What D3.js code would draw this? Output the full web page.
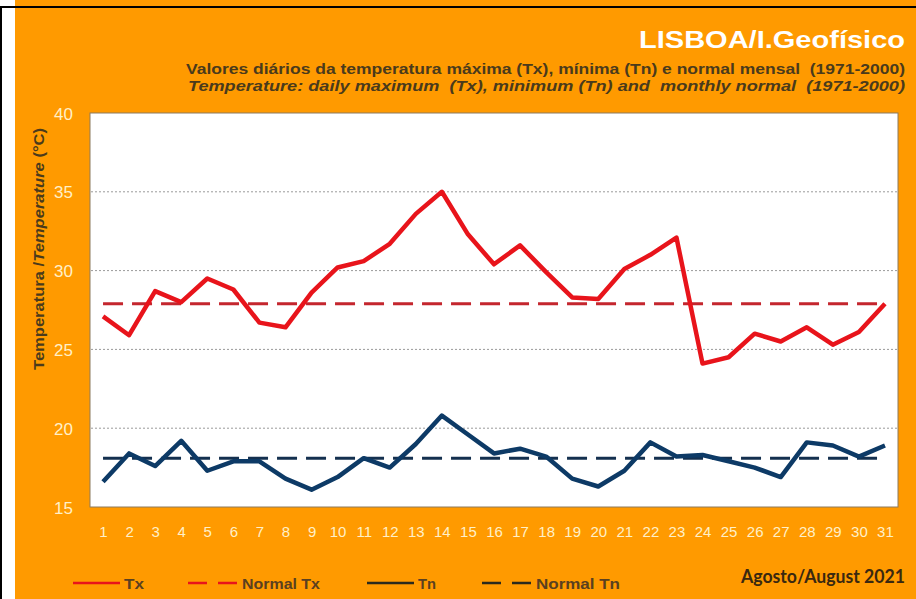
<!DOCTYPE html>
<html>
<head>
<meta charset="utf-8">
<script src="https://cdnjs.cloudflare.com/ajax/libs/d3/7.8.5/d3.min.js"></script>
<style>
  html, body { margin: 0; padding: 0; background: #fff; }
  svg { display: block; }
  text { white-space: pre; }
  .narrow { font-family: "Liberation Sans Narrow", "Arial Narrow", "Liberation Sans", Arial, sans-serif; }
</style>
</head>
<body>
<svg width="916" height="599"></svg>
<script>
"use strict";

// daily values, August 2021
var days = d3.range(1, 32);
var tx = [27.1, 25.9, 28.7, 28.0, 29.5, 28.8, 26.7, 26.4, 28.6, 30.2,
          30.6, 31.7, 33.6, 35.0, 32.3, 30.4, 31.6, 29.9, 28.3, 28.2,
          30.1, 31.0, 32.1, 24.1, 24.5, 26.0, 25.5, 26.4, 25.3, 26.1, 27.9];
var tn = [16.6, 18.4, 17.6, 19.2, 17.3, 17.9, 17.9, 16.8, 16.1, 16.9,
          18.1, 17.5, 19.0, 20.8, 19.6, 18.4, 18.7, 18.2, 16.8, 16.3,
          17.3, 19.1, 18.2, 18.3, 17.9, 17.5, 16.9, 19.1, 18.9, 18.2, 18.9];
var normalTx = 27.9,
    normalTn = 18.1;
var yTicks = [15, 20, 25, 30, 35, 40];

var svg = d3.select("svg"),
    margin = {left: 90, right: 18, top: 113, bottom: 92},
    width = 916, height = 599,
    orange = "#ff9a00",
    cream = "#fff0c8",
    brown = "#4a3a1c";

// background frame
svg.append("rect").attr("width", width).attr("height", height).attr("fill", "#fff");
svg.append("rect").attr("x", 15).attr("y", 0).attr("width", width - 15).attr("height", height).attr("fill", orange);
svg.append("rect").attr("x", 0).attr("y", 6).attr("width", 2).attr("height", height - 6).attr("fill", "#000");
svg.append("rect").attr("x", 0).attr("y", 6).attr("width", width).attr("height", 2).attr("fill", "#000");

var x = d3.scalePoint()
    .domain(days)
    .range([margin.left, width - margin.right])
    .padding(0.5);

var y = d3.scaleLinear()
    .domain([15, 40])
    .range([height - margin.bottom, margin.top]);

var plotL = margin.left, plotR = width - margin.right,
    plotT = margin.top, plotB = y(15);

svg.append("rect")
    .attr("x", plotL).attr("y", plotT)
    .attr("width", plotR - plotL).attr("height", plotB - plotT)
    .attr("fill", "#fff")
    .attr("stroke", "#8c7b5e").attr("stroke-width", 1);

// gridlines
svg.append("g")
  .selectAll("line")
  .data(yTicks.filter(d => d > 15 && d < 40))
  .enter().append("line")
    .attr("x1", plotL + 1).attr("x2", plotR - 1)
    .attr("y1", d => y(d)).attr("y2", d => y(d))
    .attr("stroke", "#9a9a9a")
    .attr("stroke-width", 1)
    .attr("stroke-dasharray", "2,2");

// y axis labels
var yAxis = svg.append("g")
    .attr("class", "narrow")
    .attr("transform", "translate(" + plotL + ",0)")
    .call(d3.axisLeft(y).tickValues(yTicks).tickSize(0).tickPadding(17));
yAxis.select(".domain").remove();
yAxis.selectAll("text")
    .attr("fill", cream)
    .attr("font-size", 17)
    .attr("dy", "0.36em");

// x axis labels
var xAxis = svg.append("g")
    .attr("class", "narrow")
    .attr("transform", "translate(0," + plotB + ")")
    .call(d3.axisBottom(x).tickSize(0).tickPadding(19));
xAxis.select(".domain").remove();
xAxis.selectAll("text")
    .attr("fill", cream)
    .attr("font-size", 15);

// normals
var normalLine = function(v) {
  return d3.line()
    .x(d => x(d))
    .y(() => y(v))(days);
};
svg.append("path")
    .attr("d", normalLine(normalTx))
    .attr("fill", "none")
    .attr("stroke", "#c4262e")
    .attr("stroke-width", 3)
    .attr("stroke-dasharray", "20,9");
svg.append("path")
    .attr("d", normalLine(normalTn))
    .attr("fill", "none")
    .attr("stroke", "#14304f")
    .attr("stroke-width", 3)
    .attr("stroke-dasharray", "20,9");

// series
var line = d3.line()
    .x((d, i) => x(days[i]))
    .y(d => y(d));

svg.append("path")
    .datum(tx)
    .attr("d", line)
    .attr("fill", "none")
    .attr("stroke", "#e8141b")
    .attr("stroke-width", 4.5)
    .attr("stroke-linejoin", "round");

svg.append("path")
    .datum(tn)
    .attr("d", line)
    .attr("fill", "none")
    .attr("stroke", "#0d3a66")
    .attr("stroke-width", 4.5)
    .attr("stroke-linejoin", "round");

// titles
svg.append("text")
    .attr("x", 905).attr("y", 48)
    .attr("text-anchor", "end")
    .attr("font-family", "Liberation Sans, Arial, sans-serif")
    .attr("font-weight", "bold")
    .attr("font-size", 24)
    .attr("fill", "#fff")
    .attr("textLength", 266)
    .attr("lengthAdjust", "spacingAndGlyphs")
    .text("LISBOA/I.Geofísico");

svg.append("text")
    .attr("class", "narrow")
    .attr("x", 905).attr("y", 74)
    .attr("text-anchor", "end")
    .attr("font-weight", "bold")
    .attr("font-size", 15.5)
    .attr("fill", brown)
    .attr("textLength", 719)
    .attr("lengthAdjust", "spacingAndGlyphs")
    .text("Valores diários da temperatura máxima (Tx), mínima (Tn) e normal mensal  (1971-2000)");

svg.append("text")
    .attr("class", "narrow")
    .attr("x", 905).attr("y", 91)
    .attr("text-anchor", "end")
    .attr("font-weight", "bold")
    .attr("font-style", "italic")
    .attr("font-size", 15.5)
    .attr("fill", brown)
    .attr("textLength", 717)
    .attr("lengthAdjust", "spacingAndGlyphs")
    .text("Temperature: daily maximum  (Tx), minimum (Tn) and  monthly normal  (1971-2000)");

// y axis title
var yTitle = svg.append("text")
    .attr("class", "narrow")
    .attr("transform", "translate(44,249) rotate(-90)")
    .attr("text-anchor", "middle")
    .attr("font-weight", "bold")
    .attr("font-size", 15.5)
    .attr("fill", brown)
    .attr("textLength", 242)
    .attr("lengthAdjust", "spacingAndGlyphs");
yTitle.append("tspan").text("Temperatura /");
yTitle.append("tspan").attr("font-style", "italic").text("Temperature");
yTitle.append("tspan").text(" (°C)");

// legend
var legendItems = [
  {label: "Tx", color: "#e8141b", dash: null, x: 73, w: 20},
  {label: "Normal Tx", color: "#e8141b", dash: "19,11", x: 188, w: 78},
  {label: "Tn", color: "#2a2a1e", dash: null, x: 367, w: 18},
  {label: "Normal Tn", color: "#2a2a1e", dash: "19,11", x: 482, w: 84}
];
var legend = svg.append("g").attr("class", "narrow")
  .selectAll("g")
  .data(legendItems)
  .enter().append("g")
    .attr("transform", d => "translate(" + d.x + ",583)");
legend.append("line")
    .attr("x1", 0).attr("x2", d => d.dash ? 49 : 47)
    .attr("stroke", d => d.color)
    .attr("stroke-width", 2.5)
    .attr("stroke-dasharray", d => d.dash);
legend.append("text")
    .attr("x", d => d.dash ? 54 : 51).attr("y", 6)
    .attr("font-weight", "bold")
    .attr("font-size", 15.5)
    .attr("fill", "#5a4020")
    .attr("textLength", d => d.w)
    .attr("lengthAdjust", "spacingAndGlyphs")
    .text(d => d.label);

svg.append("text")
    .attr("x", 905).attr("y", 583)
    .attr("text-anchor", "end")
    .attr("font-family", "Lato, Carlito, sans-serif")
    .attr("font-weight", "bold")
    .attr("font-size", 18)
    .attr("fill", "#3a2810")
    .attr("textLength", 164)
    .attr("lengthAdjust", "spacingAndGlyphs")
    .text("Agosto/August 2021");
</script>
</body>
</html>
